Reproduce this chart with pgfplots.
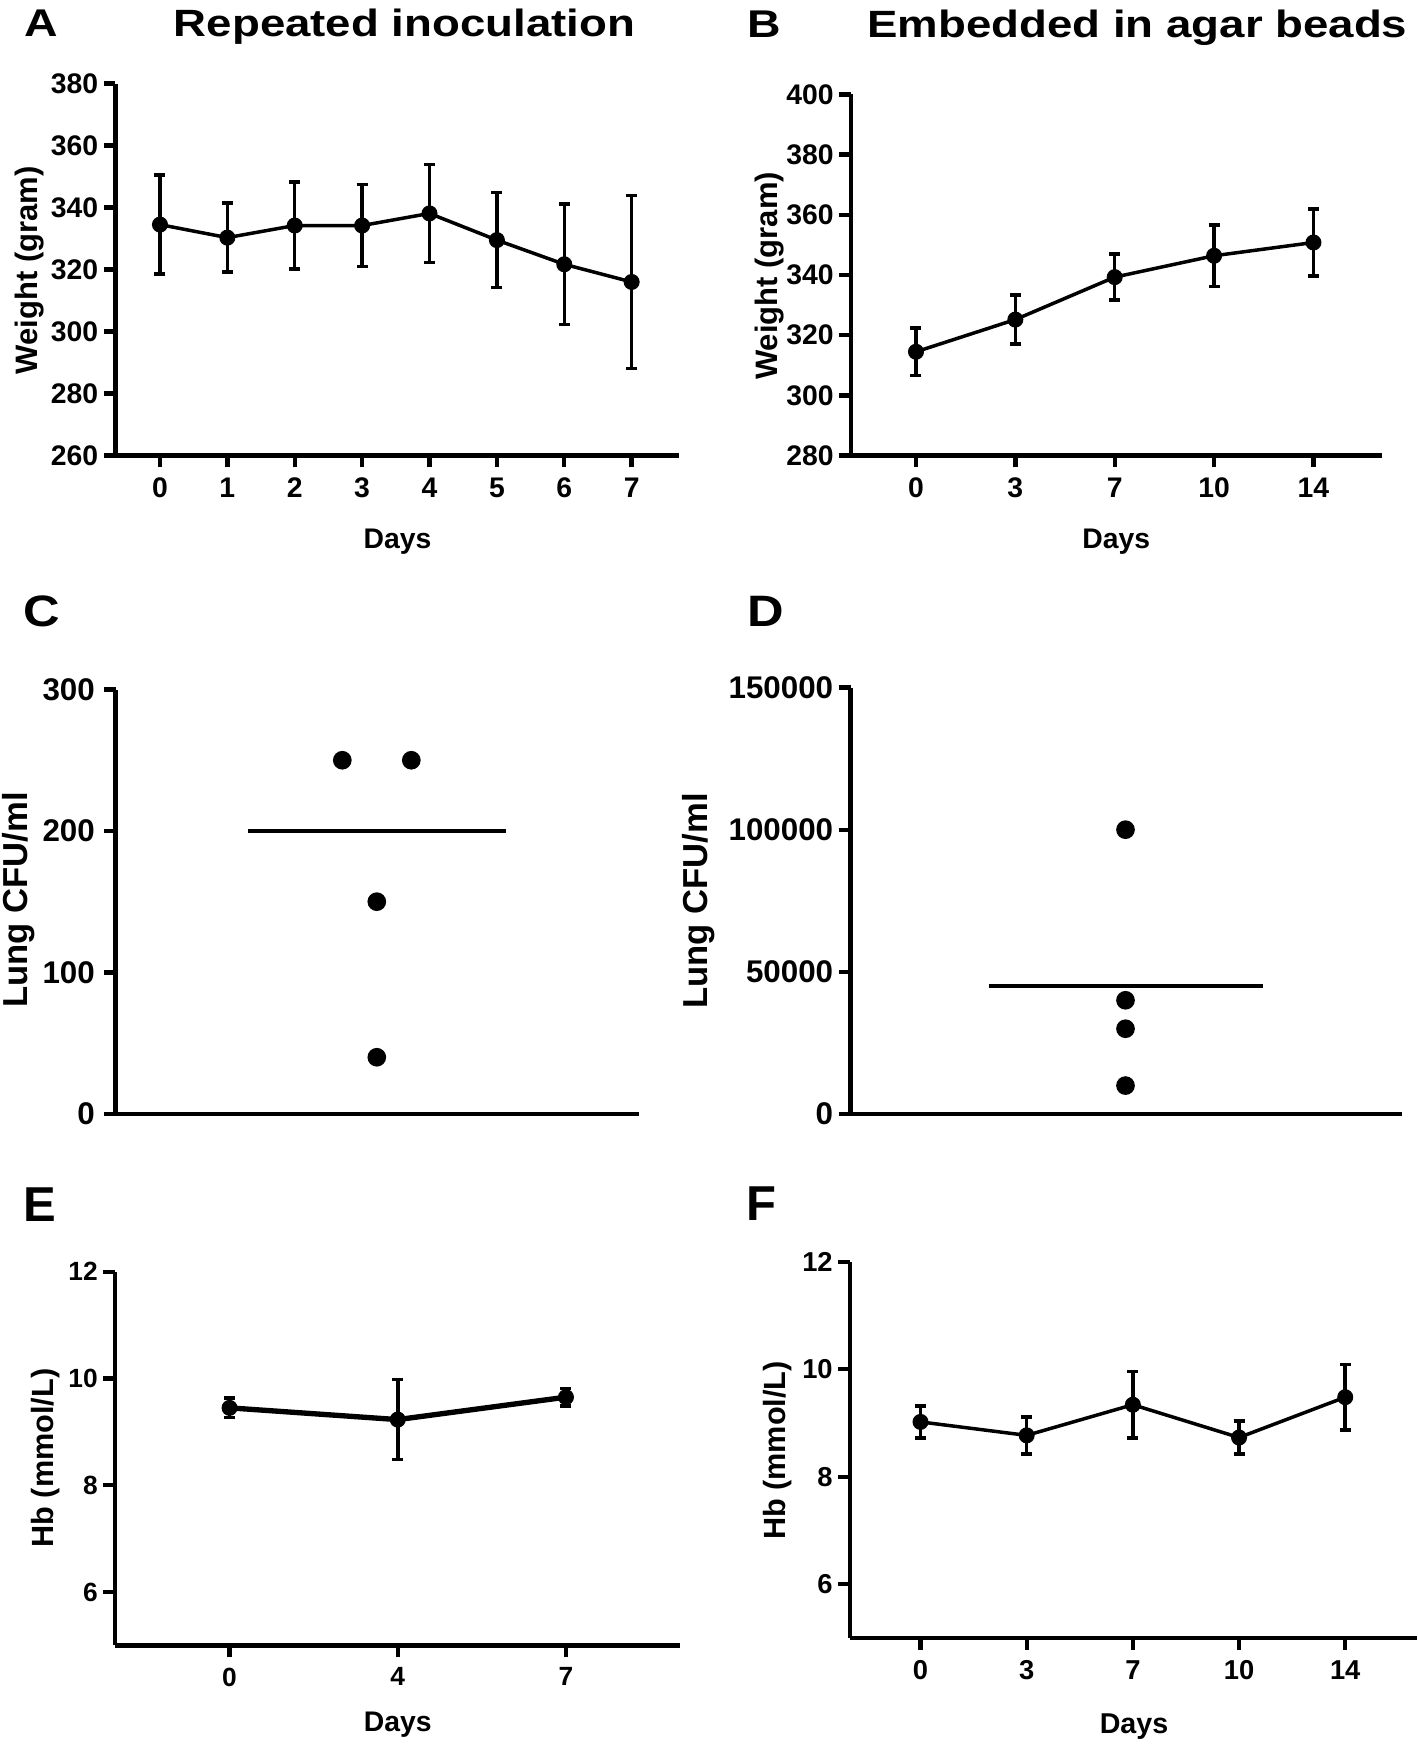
\documentclass[border=0pt]{standalone}
\usepackage{fontspec}
\setmainfont{Liberation Sans}
\usepackage{graphicx}
\usepackage{pgfplots}
\pgfplotsset{compat=1.18}
\usepackage{pgfplotstable}

\newcommand{\fs}[1]{\fontsize{#1}{#1}\selectfont\bfseries}

% Panel A: repeated inoculation, weight
\pgfplotstableread{
x y e
0 334.5 16.0
1 330.3 11.1
2 334.2 14.0
3 334.2 13.2
4 338.1 15.75
5 329.5 15.3
6 321.7 19.4
7 316.0 27.85
}\dataA
% Panel B: agar beads, weight (days 0,3,7,10,14)
\pgfplotstableread{
x y e
0 314.5 7.85
1 325.2 8.2
2 339.3 7.6
3 346.4 10.25
4 350.8 11.05
}\dataB
% Panel E: repeated inoculation, Hb (days 0,4,7)
\pgfplotstableread{
x y e
0 9.45 0.185
1 9.23 0.75
2 9.65 0.165
}\dataE
% Panel F: agar beads, Hb (days 0,3,7,10,14)
\pgfplotstableread{
x y e
0 9.02 0.295
1 8.77 0.345
2 9.34 0.615
3 8.73 0.31
4 9.48 0.61
}\dataF

\pgfplotsset{
  gp/.style={
    scale only axis,
    anchor=south west,
    axis x line*=bottom,
    axis y line*=left,
    axis line style={line width=1.35pt, black},
    major tick style={line width=1.3pt, black},
    major tick length=3.5pt,
    tick align=outside,
    clip=false,
    xticklabel style={anchor=north, inner sep=0pt, yshift=-3pt},
    yticklabel style={anchor=east, inner sep=0pt, xshift=-1.5pt},
    every axis y label/.style={rotate=90, anchor=center, inner sep=0pt},
    every axis x label/.style={anchor=base, inner sep=0pt},
    every axis title/.style={anchor=base, inner sep=0pt},
  },
  gpline/.style={black, line width=1.05pt, mark=*, mark size=2.2pt,
    mark options={solid, fill=black, draw=black, line width=0.4pt},
    error bars/y dir=both, error bars/y explicit,
    error bars/error bar style={line width=1.05pt, black, solid},
    error bars/error mark options={rotate=90, mark size=1.65pt, line width=1.05pt, black, solid}},
}

\begin{document}
\begin{tikzpicture}
\useasboundingbox (0pt,0pt) rectangle (425.4pt,-525.3pt);

% ---------------- A ----------------
\begin{axis}[gp, at={(34.65pt,-136.68pt)}, width=169.2pt, height=111.63pt,
  xmin=-0.66, xmax=7.71, ymin=260, ymax=380,
  xtick={0,1,2,3,4,5,6,7}, xticklabels={0,1,2,3,4,5,6,7},
  ytick={260,280,300,320,340,360,380}, yticklabels={260,280,300,320,340,360,380},
  ticklabel style={font=\fs{8.5}},
  title={\scalebox{1.2}[1]{Repeated inoculation}},
  title style={font=\fs{11.4}, at={(axis description cs:0.5124,1.1258)}},
  xlabel={Days}, xlabel style={font=\fs{8.5}, at={(axis description cs:0.5,-0.2483)}},
  ylabel={Weight (gram)}, ylabel style={font=\fs{9.3}, at={(axis description cs:-0.153,0.4977)}},
]
\addplot[gpline] table[x=x, y=y, y error=e] {\dataA};
\end{axis}

% ---------------- B ----------------
\begin{axis}[gp, at={(255.3pt,-136.68pt)}, width=159.21pt, height=108.36pt,
  xmin=-0.654, xmax=4.687, ymin=280, ymax=400,
  xtick={0,1,2,3,4}, xticklabels={0,3,7,10,14},
  ytick={280,300,320,340,360,380,400}, yticklabels={280,300,320,340,360,380,400},
  ticklabel style={font=\fs{8.5}},
  title={\scalebox{1.2}[1]{Embedded in agar beads}},
  title style={font=\fs{11.4}, at={(axis description cs:0.5397,1.1589)}},
  xlabel={Days}, xlabel style={font=\fs{8.5}, at={(axis description cs:0.5,-0.2558)}},
  ylabel={Weight (gram)}, ylabel style={font=\fs{9.3}, at={(axis description cs:-0.1538,0.4975)}},
]
\addplot[gpline] table[x=x, y=y, y error=e] {\dataB};
\end{axis}

% ---------------- C ----------------
\begin{axis}[gp, at={(34.65pt,-334.14pt)}, width=157.05pt, height=127.29pt,
  xmin=-7.574, xmax=7.6, ymin=0, ymax=300,
  xtick=\empty,
  ytick={0,100,200,300}, yticklabels={0,100,200,300},
  yticklabel style={font=\fs{9.4}, xshift=-1pt},
  ylabel={Lung CFU/ml}, ylabel style={font=\fs{10.4}, at={(axis description cs:-0.1847,0.5044)}},
]
\addplot[black, line width=1.3pt, no marks] coordinates {(-3.74,200) (3.74,200)};
\addplot[only marks, mark=*, mark size=2.6pt, mark options={fill=black, draw=black}]
  coordinates {(-1,250) (1,250) (0,150) (0,40)};
\end{axis}

% ---------------- D ----------------
\begin{axis}[gp, at={(255.15pt,-334.2pt)}, width=165.51pt, height=127.95pt,
  xmin=-7.97, xmax=8.02, ymin=0, ymax=150000,
  xtick=\empty, scaled y ticks=false,
  ytick={0,50000,100000,150000}, yticklabels={0,50000,100000,150000},
  yticklabel style={font=\fs{9.4}},
  ylabel={Lung CFU/ml}, ylabel style={font=\fs{10.4}, at={(axis description cs:-0.2759,0.4999)}},
]
\addplot[black, line width=1.3pt, no marks] coordinates {(-3.97,45000) (3.98,45000)};
\addplot[only marks, mark=*, mark size=2.6pt, mark options={fill=black, draw=black}]
  coordinates {(0,100000) (0,40000) (0,30000) (0,10000)};
\end{axis}

% ---------------- E ----------------
\begin{axis}[gp, at={(34.5pt,-493.62pt)}, width=169.35pt, height=112.11pt,
  xmin=-0.681, xmax=2.675, ymin=5, ymax=12,
  xtick={0,1,2}, xticklabels={0,4,7},
  ytick={6,8,10,12}, yticklabels={6,8,10,12},
  ticklabel style={font=\fs{7.9}},
  xlabel={Days}, xlabel style={font=\fs{8.5}, at={(axis description cs:0.5008,-0.229)}},
  ylabel={Hb (mmol/L)}, ylabel style={font=\fs{9.2}, at={(axis description cs:-0.1226,0.5015)}},
]
\addplot[gpline, line width=1.6pt] table[x=x, y=y, y error=e] {\dataE};
\end{axis}

% ---------------- F ----------------
\begin{axis}[gp, at={(255pt,-491.4pt)}, width=170.1pt, height=112.89pt,
  xmin=-0.664, xmax=4.676, ymin=5, ymax=12,
  xtick={0,1,2,3,4}, xticklabels={0,3,7,10,14},
  ytick={6,8,10,12}, yticklabels={6,8,10,12},
  ticklabel style={font=\fs{8.2}},
  xlabel={Days}, xlabel style={font=\fs{8.6}, at={(axis description cs:0.5009,-0.2525)}},
  ylabel={Hb (mmol/L)}, ylabel style={font=\fs{9.2}, at={(axis description cs:-0.1279,0.4983)}},
]
\addplot[gpline] table[x=x, y=y, y error=e] {\dataF};
\end{axis}

% panel letters
\node[anchor=base west, inner sep=0pt, font=\fs{11.6}] at (7.3pt,-11.01pt) {\scalebox{1.2}[1]{A}};
\node[anchor=base west, inner sep=0pt, font=\fs{11.6}] at (224.1pt,-11.1pt) {\scalebox{1.2}[1]{B}};
\node[anchor=base west, inner sep=0pt, font=\fs{13.2}] at (6.9pt,-187.89pt) {\scalebox{1.15}[1]{C}};
\node[anchor=base west, inner sep=0pt, font=\fs{13.2}] at (224.1pt,-187.89pt) {\scalebox{1.15}[1]{D}};
\node[anchor=base west, inner sep=0pt, font=\fs{14.7}] at (6.8pt,-366.51pt) {E};
\node[anchor=base west, inner sep=0pt, font=\fs{14.7}] at (223.8pt,-366.12pt) {F};
\end{tikzpicture}
\end{document}
